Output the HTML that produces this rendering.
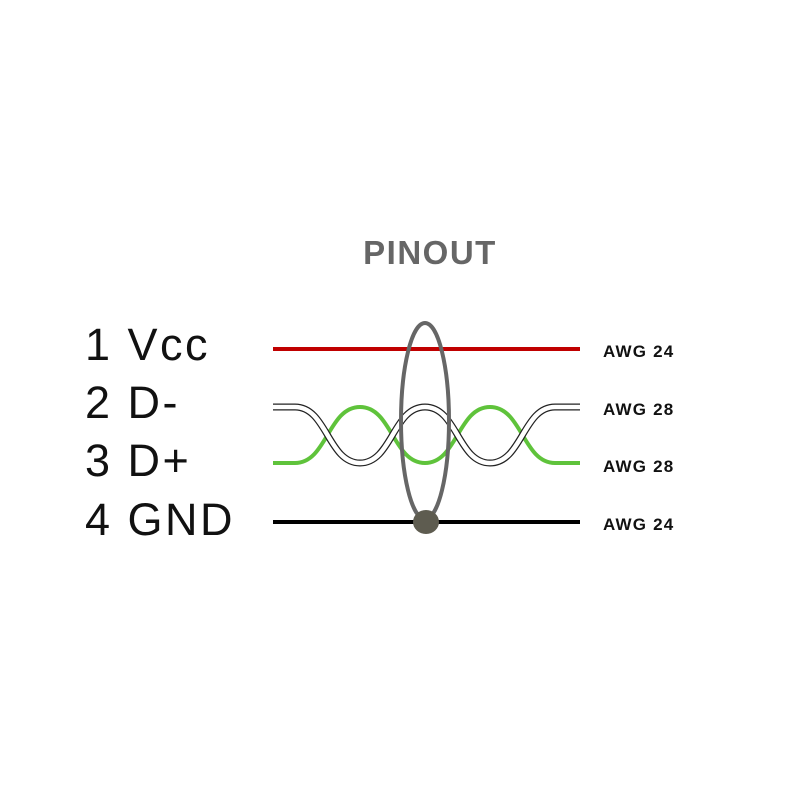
<!DOCTYPE html>
<html><head><style>body{margin:0;background:#fff}</style></head><body>
<svg width="800" height="800" viewBox="0 0 800 800" xmlns="http://www.w3.org/2000/svg">
<rect width="800" height="800" fill="#fff"/>
<text x="430" y="264" text-anchor="middle" font-family="Liberation Sans, sans-serif" font-weight="bold" font-size="33" letter-spacing="1.5" fill="#666">PINOUT</text>
<g font-family="Liberation Sans, sans-serif" font-size="45" fill="#111" letter-spacing="2.5">
<text x="85" y="360">1 Vcc</text>
<text x="85" y="418">2 D-</text>
<text x="85" y="476">3 D+</text>
<text x="85" y="535">4 GND</text>
</g>
<g font-family="Liberation Sans, sans-serif" font-weight="bold" font-size="17" fill="#111" letter-spacing="1.2">
<text x="603" y="357">AWG 24</text>
<text x="603" y="415">AWG 28</text>
<text x="603" y="472">AWG 28</text>
<text x="603" y="530">AWG 24</text>
</g>
<line x1="273" y1="349" x2="580" y2="349" stroke="#c00000" stroke-width="4"/>
<path d="M273,463 L295,463 C327,463 328,407 360,407 C392,407 393,463 425,463 C457,463 458,407 490,407 C522,407 523,463 555,463 L580,463" fill="none" stroke="#5fc33b" stroke-width="4"/>
<path d="M273,407 L295,407 C327,407 328,463 360,463 C392,463 393,407 425,407 C457,407 458,463 490,463 C522,463 523,407 555,407 L580,407" fill="none" stroke="#222" stroke-width="7"/>
<path d="M273,407 L295,407 C327,407 328,463 360,463 C392,463 393,407 425,407 C457,407 458,463 490,463 C522,463 523,407 555,407 L580,407" fill="none" stroke="#fff" stroke-width="4.5"/>
<line x1="273" y1="522" x2="580" y2="522" stroke="#000" stroke-width="4"/>
<ellipse cx="425" cy="421" rx="24" ry="98" fill="none" stroke="#666" stroke-width="4"/>
<ellipse cx="426" cy="522" rx="13" ry="12" fill="#5e5c50"/>
</svg>
</body></html>
